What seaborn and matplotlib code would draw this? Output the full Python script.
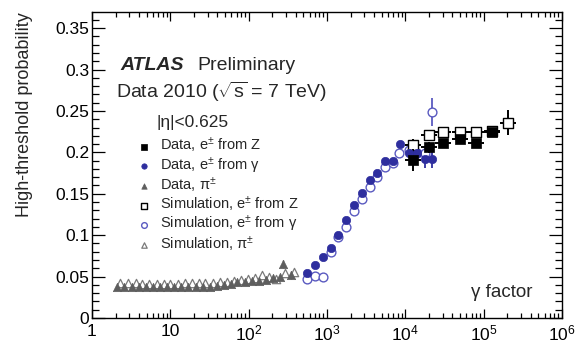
import numpy as np
import pandas as pd
import seaborn as sns
import matplotlib
matplotlib.use("Agg")
import matplotlib.pyplot as plt
from matplotlib.ticker import FixedLocator, FuncFormatter, LogLocator, NullFormatter, MultipleLocator

# ---- measured points -------------------------------------------------------
# pions (data)
gamma_pi_data = [2.1, 2.6, 3.2, 4.0, 4.9, 6.0, 7.4, 9.1, 11.2, 13.8, 17, 21, 26,
                 32, 39, 48, 59, 72, 89, 110, 135, 165, 205, 250, 276, 348]
prob_pi_data = [0.037, 0.037, 0.037, 0.037, 0.037, 0.037, 0.037, 0.037, 0.037,
                0.037, 0.037, 0.038, 0.038, 0.038, 0.039, 0.040, 0.041, 0.043,
                0.044, 0.045, 0.045, 0.046, 0.048, 0.050, 0.065, 0.052]
err_pi_data = [0.001] * 24 + [0.005, 0.005]

# pions (simulation)
gamma_pi_sim = [2.3, 2.9, 3.6, 4.4, 5.4, 6.7, 8.2, 10, 12.4, 15.2, 18.7, 23, 28,
                35, 43, 53, 65, 80, 98, 120, 148, 182, 224, 290, 380]
prob_pi_sim = [0.042, 0.042, 0.042, 0.041, 0.041, 0.041, 0.041, 0.041, 0.041,
               0.042, 0.042, 0.042, 0.042, 0.042, 0.043, 0.044, 0.045, 0.046,
               0.047, 0.048, 0.052, 0.050, 0.047, 0.054, 0.055]

# electrons from photon conversions (data)
gamma_conv_data = [557, 705, 890, 1130, 1380, 1750, 2220, 2800, 3550, 4370, 5500,
                   7000, 8550, 11000, 14000, 17900, 22000]
prob_conv_data = [0.054, 0.064, 0.074, 0.085, 0.100, 0.118, 0.136, 0.151, 0.167,
                  0.175, 0.189, 0.190, 0.210, 0.199, 0.199, 0.192, 0.192]
err_conv_data = [0.001, 0.001, 0.001, 0.001, 0.001, 0.001, 0.001, 0.001, 0.001,
                 0.001, 0.002, 0.002, 0.003, 0.004, 0.005, 0.011, 0.011]

# electrons from photon conversions (simulation)
gamma_conv_sim = [557, 705, 890, 1130, 1380, 1750, 2220, 2800, 3550, 4370, 5500,
                  7000, 8300, 11000, 14000, 17900, 22000]
prob_conv_sim = [0.047, 0.051, 0.050, 0.080, 0.098, 0.110, 0.129, 0.144, 0.158,
                 0.170, 0.182, 0.187, 0.199, 0.203, 0.199, 0.199, 0.249]
err_conv_sim = [0.001] * 12 + [0.002, 0.003, 0.004, 0.005, 0.017]

# electrons from Z decays (data)
gamma_z_data = [12600, 20000, 30000, 50000, 80000, 128000]
prob_z_data = [0.191, 0.206, 0.211, 0.216, 0.211, 0.225]
err_z_data = [0.013, 0.007, 0.004, 0.004, 0.003, 0.003]

# electrons from Z decays (simulation)
gamma_z_sim = [12600, 20000, 30000, 50000, 80000, 128000, 205000]
prob_z_sim = [0.209, 0.221, 0.225, 0.225, 0.225, 0.226, 0.236]
err_z_sim = [0.007, 0.004, 0.002, 0.002, 0.002, 0.003, 0.015]

# half bin width of the Z points, in decades
z_half_bin = 0.1

x_ticks = [1, 10, 100, 1e3, 1e4, 1e5, 1e6]
x_tick_labels = ["1", "10", "$10^{2}$", "$10^{3}$", "$10^{4}$", "$10^{5}$", "$10^{6}$"]

# ---- style -------------------------------------------------------------------
sns.set_theme(style="ticks")
plt.rcParams["font.family"] = ["Liberation Sans", "DejaVu Sans"]
plt.rcParams["mathtext.fontset"] = "custom"
plt.rcParams["mathtext.rm"] = "Liberation Sans"
plt.rcParams["mathtext.it"] = "Liberation Sans:italic"
plt.rcParams["mathtext.bf"] = "Liberation Sans:bold"

blue = "#2e2e9e"
blue_open = "#5a5ac0"
grey = "#5e5e5e"
grey_open = "#7a7a7a"

fig = plt.figure(figsize=(5.77, 3.42), dpi=100)
ax = fig.add_axes([0.1594, 0.0702, 0.8146, 0.8947])
ax.set_xscale("log")

# error bars first so the markers sit on top
ax.errorbar(gamma_pi_data, prob_pi_data, yerr=err_pi_data, fmt="none",
            ecolor=grey, elinewidth=1.0, zorder=2)
ax.errorbar(gamma_conv_data, prob_conv_data, yerr=err_conv_data, fmt="none",
            ecolor=blue, elinewidth=1.3, zorder=2)
ax.errorbar(gamma_conv_sim, prob_conv_sim, yerr=err_conv_sim, fmt="none",
            ecolor=blue_open, elinewidth=1.3, zorder=2)


def bin_xerr(g):
    g = np.asarray(g, dtype=float)
    return [g - g * 10 ** (-z_half_bin), g * 10 ** z_half_bin - g]


ax.errorbar(gamma_z_sim, prob_z_sim, xerr=bin_xerr(gamma_z_sim), yerr=err_z_sim,
            fmt="none", ecolor="black", elinewidth=1.4, zorder=2)
ax.errorbar(gamma_z_data, prob_z_data, xerr=bin_xerr(gamma_z_data), yerr=err_z_data,
            fmt="none", ecolor="black", elinewidth=1.4, zorder=4)

# markers
sns.scatterplot(x=gamma_pi_sim, y=prob_pi_sim, ax=ax, marker="^", s=36,
                color="white", edgecolor=grey_open, linewidth=0.9, zorder=3,
                label="Simulation, π$^{\\pm}$")
sns.scatterplot(x=gamma_pi_data, y=prob_pi_data, ax=ax, marker="^", s=36,
                color=grey, edgecolor=grey, linewidth=0.5, zorder=4,
                label="Data, π$^{\\pm}$")
sns.scatterplot(x=gamma_conv_sim, y=prob_conv_sim, ax=ax, marker="o", s=40,
                color="white", edgecolor=blue_open, linewidth=1.0, zorder=3,
                label="Simulation, e$^{\\pm}$ from γ")
sns.scatterplot(x=gamma_conv_data, y=prob_conv_data, ax=ax, marker="o", s=36,
                color=blue, edgecolor=blue, linewidth=0.5, zorder=4,
                label="Data, e$^{\\pm}$ from γ")
sns.scatterplot(x=gamma_z_sim, y=prob_z_sim, ax=ax, marker="s", s=44,
                color="white", edgecolor="black", linewidth=1.0, zorder=3,
                label="Simulation, e$^{\\pm}$ from Z")
sns.scatterplot(x=gamma_z_data, y=prob_z_data, ax=ax, marker="s", s=44,
                color="black", edgecolor="black", linewidth=0.5, zorder=5,
                label="Data, e$^{\\pm}$ from Z")

# ---- axes --------------------------------------------------------------------
ax.set_xlim(1, 1e6)
ax.set_ylim(0, 0.3695)

ax.xaxis.set_major_locator(FixedLocator(x_ticks))
ax.set_xticklabels(x_tick_labels)
ax.xaxis.set_minor_locator(LogLocator(base=10, subs=np.arange(2, 10)))
ax.xaxis.set_minor_formatter(NullFormatter())
ax.yaxis.set_major_locator(MultipleLocator(0.05))
ax.yaxis.set_minor_locator(MultipleLocator(0.01))
ax.yaxis.set_major_formatter(FuncFormatter(lambda v, p: f"{v:g}"))

ax.tick_params(axis="both", which="both", direction="in", top=True, right=True,
               colors="black", width=0.9, labelsize=12.5)
ax.tick_params(axis="x", which="major", length=6.5, pad=4)
ax.tick_params(axis="x", which="minor", length=3.4)
ax.tick_params(axis="y", which="major", length=9.5, pad=2)
ax.tick_params(axis="y", which="minor", length=4.8)
for sp in ax.spines.values():
    sp.set_linewidth(1.0)
    sp.set_color("black")

ax.set_ylabel("High-threshold probability", fontsize=13, loc="top")
ax.yaxis.set_label_coords(-0.126, 1.0)

# ---- annotations -------------------------------------------------------------
ax.text(0.0596, 0.810, "ATLAS", transform=ax.transAxes, fontsize=14,
        fontweight="bold", fontstyle="italic")
ax.text(0.2234, 0.810, "Preliminary", transform=ax.transAxes, fontsize=14)
ax.text(0.051, 0.719, "Data 2010 ($\\sqrt{\\mathrm{s}}$ = 7 TeV)",
        transform=ax.transAxes, fontsize=14)
ax.text(0.138, 0.624, "|η|<0.625", transform=ax.transAxes, fontsize=12.5)
ax.text(0.938, 0.0686, "γ factor", transform=ax.transAxes, fontsize=13.5, ha="right")

handles, labels = ax.get_legend_handles_labels()
order = ["Data, e$^{\\pm}$ from Z", "Data, e$^{\\pm}$ from γ", "Data, π$^{\\pm}$",
         "Simulation, e$^{\\pm}$ from Z", "Simulation, e$^{\\pm}$ from γ",
         "Simulation, π$^{\\pm}$"]
lookup = dict(zip(labels, handles))
ax.legend([lookup[k] for k in order], order, loc="upper left",
          bbox_to_anchor=(0.0947, 0.595), frameon=False, fontsize=10.5,
          markerscale=0.65, handlelength=1.0, handletextpad=0.6, borderpad=0,
          borderaxespad=0, labelspacing=0.0)

fig.savefig("out.png", dpi=100)
